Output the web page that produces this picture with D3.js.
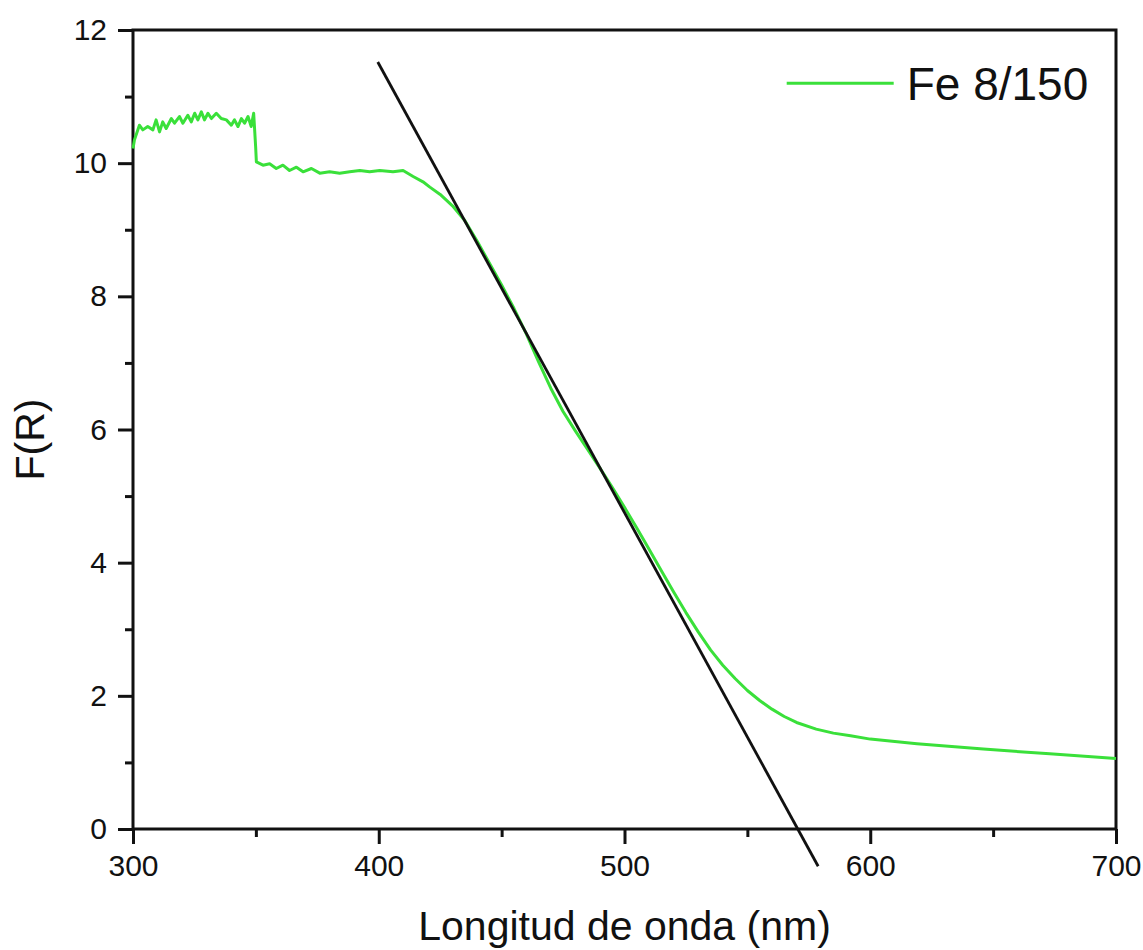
<!DOCTYPE html>
<html>
<head>
<meta charset="utf-8">
<script src="https://cdn.jsdelivr.net/npm/d3@7"></script>
<style>
  body { margin: 0; background: #fff; }
  text { font-family: "Liberation Sans", Arial, sans-serif; fill: #111; }
</style>
</head>
<body>
<div class="d3-canvas"></div>
<script>
const WIDTH = 1143;
const HEIGHT = 950;

const margin = {top: 30, right: 27, bottom: 121, left: 133};
const chartWidth = WIDTH - margin.left - margin.right;
const chartHeight = HEIGHT - margin.top - margin.bottom;

// Fe 8/150 spectrum
const wavelength = [
    300, 300.6, 302.6, 304, 306, 308.1, 309.4, 310.8, 312.1, 313.5, 315.6, 316.9,
    318.9, 320.3, 322.3, 323.7, 325.1, 326.4, 327.8, 329.1, 330.5, 331.9, 333.9,
    335.9, 338, 340, 341.3, 342.7, 344.1, 345.4, 346.8, 348.1, 349.1, 349.9,
    350.2, 352.9, 355.6, 358.3, 361, 363.7, 366.5, 369.2, 372.6, 376, 380, 384.1,
    388.2, 392.3, 396.3, 400.4, 405.8, 409.9, 414, 418, 420.8, 425, 430, 435,
    440, 445, 450, 455, 460, 465, 470, 475, 480, 485, 490, 495, 500, 505, 510,
    515, 520, 525, 530, 535, 540, 545, 550, 555, 560, 565, 570, 578, 585, 592,
    600, 619, 646, 673, 700
];
const fr = [
    10.22, 10.35, 10.57, 10.50, 10.55, 10.50, 10.65, 10.47, 10.62, 10.52, 10.67, 10.60,
    10.70, 10.60, 10.72, 10.62, 10.75, 10.65, 10.77, 10.65, 10.75, 10.67, 10.75,
    10.67, 10.65, 10.57, 10.65, 10.55, 10.67, 10.60, 10.70, 10.55, 10.75, 10.25,
    10.02, 9.97, 9.99, 9.92, 9.97, 9.89, 9.94, 9.87, 9.92, 9.85, 9.87, 9.85,
    9.87, 9.89, 9.87, 9.89, 9.87, 9.89, 9.80, 9.72, 9.64, 9.53, 9.36, 9.14,
    8.83, 8.50, 8.17, 7.82, 7.44, 7.02, 6.62, 6.27, 5.98, 5.70, 5.42, 5.13, 4.83, 4.52, 4.20,
    3.88, 3.56, 3.25, 2.96, 2.69, 2.46, 2.26, 2.08, 1.93, 1.80, 1.69, 1.60, 1.50, 1.44, 1.40,
    1.35, 1.28, 1.20, 1.13, 1.06
];

// tangent line (band-gap extrapolation)
const tangentWl = [399.6, 578.8];
const tangentVal = [11.52, -0.56];

const xTicks = [300, 400, 500, 600, 700];
const xMinorTicks = [350, 450, 550, 650];
const yTicks = [0, 2, 4, 6, 8, 10, 12];
const yMinorTicks = [1, 3, 5, 7, 9, 11];

const seriesName = 'Fe 8/150';
const GREEN = '#3ae03a';

const svg = d3.select('.d3-canvas')
    .append('svg')
        .attr('width', WIDTH)
        .attr('height', HEIGHT);

const chart = svg.append('g')
    .attr('transform', `translate(${margin.left}, ${margin.top})`);

const x = d3.scaleLinear().domain([300, 700]).range([0, chartWidth]);
const y = d3.scaleLinear().domain([0, 12]).range([chartHeight, 0]);

// Axes (ticks out, minor ticks shorter).
const styleAxis = g => {
    g.select('.domain').remove();
    g.selectAll('.tick line').attr('stroke', '#111').attr('stroke-width', 3);
    g.selectAll('.tick text').style('font-size', '30px').style('fill', '#111');
};

chart.append('g')
    .attr('transform', `translate(0, ${chartHeight})`)
    .call(d3.axisBottom(x).tickValues(xTicks).tickSize(15).tickPadding(11).tickFormat(d3.format('d')))
    .call(styleAxis);
chart.append('g')
    .attr('transform', `translate(0, ${chartHeight})`)
    .call(d3.axisBottom(x).tickValues(xMinorTicks).tickSize(8).tickFormat(''))
    .call(styleAxis);
chart.append('g')
    .call(d3.axisLeft(y).tickValues(yTicks).tickSize(15).tickPadding(11).tickFormat(d3.format('d')))
    .call(styleAxis);
chart.append('g')
    .call(d3.axisLeft(y).tickValues(yMinorTicks).tickSize(8).tickFormat(''))
    .call(styleAxis);

// Frame
chart.append('rect')
    .attr('width', chartWidth)
    .attr('height', chartHeight)
    .attr('fill', 'none')
    .attr('stroke', '#111')
    .attr('stroke-width', 3);

// Spectrum
const line = d3.line()
    .x(i => x(wavelength[i]))
    .y(i => y(fr[i]));
chart.append('path')
    .attr('d', line(d3.range(wavelength.length)))
    .attr('fill', 'none')
    .attr('stroke', GREEN)
    .attr('stroke-width', 3)
    .attr('stroke-linejoin', 'round');

// Tangent
chart.append('path')
    .attr('d', d3.line()
        .x(i => x(tangentWl[i]))
        .y(i => y(tangentVal[i]))(d3.range(tangentWl.length)))
    .attr('stroke', '#111')
    .attr('stroke-width', 2.8);

// Legend
const legend = chart.append('g')
    .attr('transform', `translate(${x(566)}, ${y(11.2)})`);
legend.append('line')
    .attr('x1', 0).attr('x2', 107)
    .attr('stroke', GREEN)
    .attr('stroke-width', 3);
legend.append('text')
    .attr('x', 120)
    .attr('dy', '0.37em')
    .style('font-size', '46px')
    .text(seriesName);

// Axis titles
svg.append('text')
    .attr('x', margin.left + chartWidth / 2)
    .attr('y', 940)
    .attr('text-anchor', 'middle')
    .style('font-size', '41px')
    .text('Longitud de onda (nm)');
svg.append('text')
    .attr('transform', `translate(44, ${margin.top + chartHeight / 2 + 10}) rotate(-90)`)
    .attr('text-anchor', 'middle')
    .style('font-size', '41px')
    .text('F(R)');
</script>
</body>
</html>
